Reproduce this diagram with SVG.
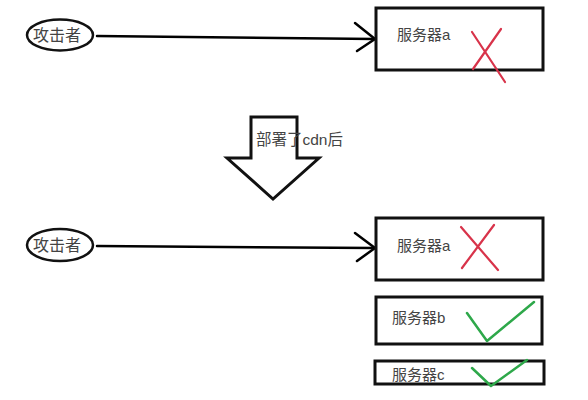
<svg xmlns="http://www.w3.org/2000/svg" width="588" height="400" viewBox="0 0 588 400">
<style>
.ln{fill:none;stroke:#000;stroke-width:2.5;stroke-linecap:round;stroke-linejoin:round}
.box{fill:#fff;stroke:#111;stroke-width:3}
.ell{fill:#fff;stroke:#111;stroke-width:2.5}
.t{font-family:"Liberation Sans","Noto Sans CJK SC",sans-serif;fill:#444}
.x{fill:none;stroke:#d8334a;stroke-width:2.2;stroke-linecap:round}
.ok{fill:none;stroke:#2ea84a;stroke-width:2.5;stroke-linecap:round;stroke-linejoin:round}
</style>
<rect width="588" height="400" fill="#fff"/>
<g id="connectors">
<path class="ln" d="M97 36 L375 39"/>
<path class="ln" d="M355 23 L375 39 L357 51"/>
<path class="ln" d="M97 246 L375 248"/>
<path class="ln" d="M355 233 L375 248 L357 261"/>
</g>
<g id="attacker-top">
<ellipse class="ell" cx="60" cy="35" rx="33" ry="15.5"/>
<text class="t" x="57" y="41" font-size="16" text-anchor="middle">攻击者</text>
</g>
<g id="server-a-top">
<rect class="box" x="376" y="8" width="167" height="62"/>
<text class="t" x="397" y="40" font-size="15">服务器a</text>
<path class="x" d="M472 32 L505 82 M501 29 L473 69"/>
</g>
<g id="deploy-arrow">
<path fill="#fff" stroke="#111" stroke-width="3" stroke-linejoin="miter" d="M251 117 L297 117 L297 158 L319 158 L273 199 L227 158 L251 158 Z"/>
<text class="t" x="256" y="145" font-size="15.5">部署了cdn后</text>
</g>
<g id="attacker-bottom">
<ellipse class="ell" cx="60" cy="245" rx="33" ry="16"/>
<text class="t" x="57" y="251" font-size="16" text-anchor="middle">攻击者</text>
</g>
<g id="server-a-bottom">
<rect class="box" x="376" y="218" width="167" height="62"/>
<text class="t" x="397" y="251" font-size="15">服务器a</text>
<path class="x" d="M461 227 L498 270 M494 225 L462 268"/>
</g>
<g id="server-b">
<rect class="box" x="376" y="297" width="166" height="47"/>
<text class="t" x="392" y="323" font-size="15">服务器b</text>
<path class="ok" d="M467 313 L487 341 L534 302"/>
</g>
<g id="server-c">
<rect class="box" x="375" y="361" width="169" height="23"/>
<text class="t" x="392" y="380" font-size="15">服务器c</text>
<path class="ok" d="M472 368 L491 386 L527 360"/>
</g>
</svg>
